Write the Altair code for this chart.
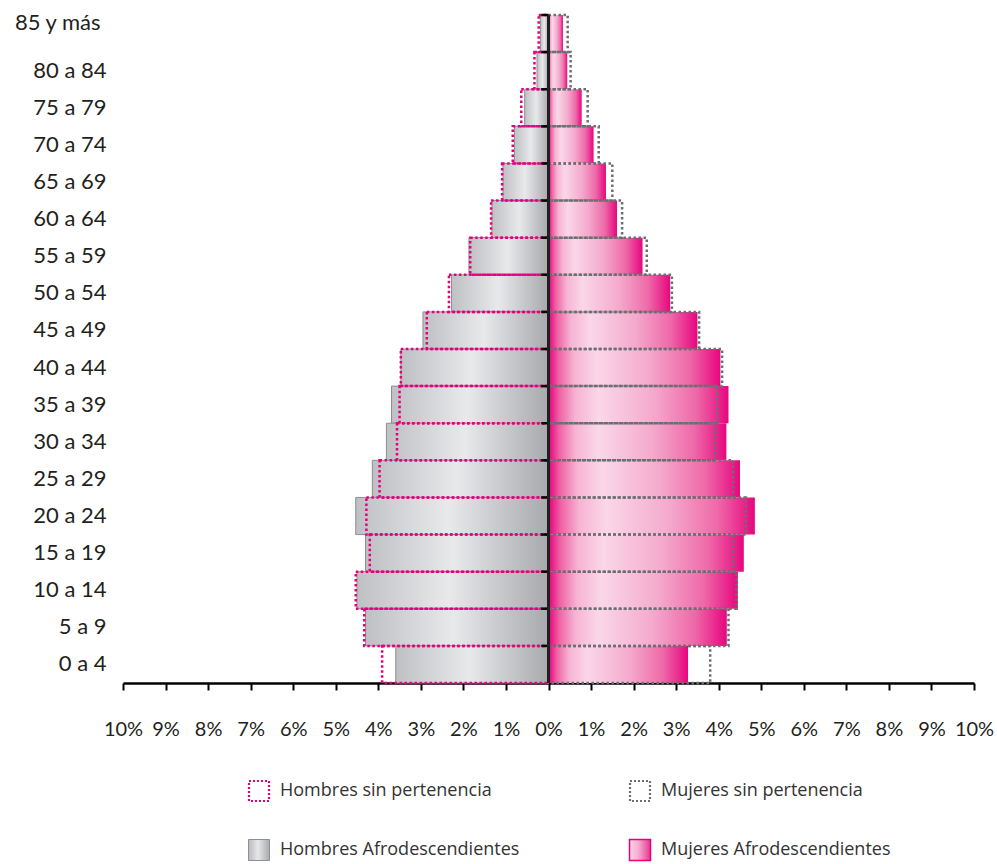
import altair as alt
import pandas as pd

# Age groups, top to bottom
ages = ["85 y más", "80 a 84", "75 a 79", "70 a 74", "65 a 69", "60 a 64",
        "55 a 59", "50 a 54", "45 a 49", "40 a 44", "35 a 39", "30 a 34",
        "25 a 29", "20 a 24", "15 a 19", "10 a 14", "5 a 9", "0 a 4"]

# Share of population (%) per age group
hombres_afro = [0.19, 0.27, 0.56, 0.80, 1.07, 1.33, 1.87, 2.28, 2.95, 3.47,
                3.69, 3.81, 4.14, 4.53, 4.30, 4.50, 4.30, 3.59]
mujeres_afro = [0.34, 0.44, 0.78, 1.06, 1.35, 1.61, 2.21, 2.86, 3.50, 4.04,
                4.23, 4.18, 4.50, 4.85, 4.59, 4.45, 4.19, 3.28]
hombres_sin = [0.23, 0.33, 0.64, 0.84, 1.09, 1.35, 1.84, 2.34, 2.86, 3.47,
               3.50, 3.56, 3.97, 4.28, 4.20, 4.53, 4.33, 3.91]
mujeres_sin = [0.45, 0.52, 0.92, 1.18, 1.50, 1.73, 2.31, 2.90, 3.54, 4.08,
               3.97, 3.92, 4.34, 4.64, 4.34, 4.42, 4.23, 3.80]

x_ticks = list(range(-10, 11))

legend_labels = ["Hombres sin pertenencia", "Mujeres sin pertenencia",
                 "Hombres Afrodescendientes", "Mujeres Afrodescendientes"]
legend_cols = [0, 1, 0, 1]
legend_rows = [0, 0, 1, 1]

df = pd.DataFrame({
    "age": ages,
    "ha": [-v for v in hombres_afro],
    "ma": mujeres_afro,
    "hs": [-v for v in hombres_sin],
    "ms": mujeres_sin,
})
leg = pd.DataFrame({"label": legend_labels, "col": legend_cols, "row": legend_rows})

AXIS_FONT = "Lato"
LEG_FONT = "Open Sans"
MAGENTA = "#e6007e"
DOT_GREY = "#6d6e71"

grey_grad = alt.LinearGradient(
    gradient="linear", x1=0, x2=1, y1=0, y2=0,
    stops=[alt.GradientStop(color="#bfc0c3", offset=0),
           alt.GradientStop(color="#e8e9eb", offset=0.48),
           alt.GradientStop(color="#a8a9ad", offset=1)])
pink_grad = alt.LinearGradient(
    gradient="linear", x1=0, x2=1, y1=0, y2=0,
    stops=[alt.GradientStop(color="#e4007c", offset=0),
           alt.GradientStop(color="#ef62a5", offset=0.06),
           alt.GradientStop(color="#f6b4d3", offset=0.15),
           alt.GradientStop(color="#fad7e8", offset=0.28),
           alt.GradientStop(color="#f4aacd", offset=0.58),
           alt.GradientStop(color="#ee69a8", offset=0.82),
           alt.GradientStop(color="#e7067f", offset=1)])
grey_swatch = alt.LinearGradient(
    gradient="linear", x1=0, x2=1, y1=0, y2=0,
    stops=[alt.GradientStop(color="#b9babd", offset=0),
           alt.GradientStop(color="#e6e7e9", offset=0.45),
           alt.GradientStop(color="#a9aaae", offset=1)])
pink_swatch = alt.LinearGradient(
    gradient="linear", x1=0, x2=1, y1=0, y2=0,
    stops=[alt.GradientStop(color="#f9d3e6", offset=0),
           alt.GradientStop(color="#f6b0d2", offset=0.4),
           alt.GradientStop(color="#e8388f", offset=1)])

xscale = alt.Scale(domain=[-10, 10], nice=False, zero=False)
yscale = alt.Scale(paddingInner=0, paddingOuter=0)

TOP_LABEL = "datum.value === '85 y más'"

X_AX = alt.Axis(values=x_ticks, labelExpr="abs(datum.value) + '%'", title=None,
                grid=False, domain=True, ticks=True, labels=True,
                domainColor="#000000", domainWidth=2.5,
                tickColor="#000000", tickWidth=2, tickSize=7,
                labelFont=AXIS_FONT, labelFontSize=20, labelColor="#231f20",
                labelPadding=29, labelOverlap=False, labelFlush=False)
Y_AX = alt.Axis(title=None, domain=False, ticks=False, labels=True, grid=False,
                labelAlign="right", labelBaseline="middle",
                labelPadding={"condition": {"test": TOP_LABEL, "value": 23},
                              "value": 17},
                labelOffset={"condition": {"test": TOP_LABEL, "value": -11},
                             "value": 0},
                labelFont=AXIS_FONT, labelFontSize=22, labelColor="#231f20")

base = alt.Chart(df)
y_enc = alt.Y("age:N", sort=ages, scale=yscale, axis=Y_AX)

bars_h = base.mark_bar(fill=grey_grad, stroke="#8e8f92", strokeWidth=1).encode(
    x=alt.X("ha:Q", scale=xscale, axis=X_AX), x2=alt.datum(0), y=y_enc)
bars_m = base.mark_bar(fill=pink_grad, strokeWidth=0).encode(
    x=alt.X("ma:Q", scale=xscale), x2=alt.datum(0), y=y_enc)
out_h = base.mark_bar(fill="transparent", stroke=MAGENTA, strokeWidth=2.5,
                      strokeDash=[2.5, 2.5]).encode(
    x=alt.X("hs:Q", scale=xscale), x2=alt.datum(0), y=y_enc)
out_m = base.mark_bar(fill="transparent", stroke=DOT_GREY, strokeWidth=2.5,
                      strokeDash=[2.5, 2.5]).encode(
    x=alt.X("ms:Q", scale=xscale), x2=alt.datum(0), y=y_enc)
band_ticks = base.mark_rule(color="#000000", strokeWidth=2.5).encode(
    x=alt.datum(-0.17), x2=alt.datum(0),
    y=alt.Y("age:N", sort=ages, scale=yscale, bandPosition=0))
center = base.mark_rule(color="#231f20", strokeWidth=2.5).encode(x=alt.datum(0))

pyramid = alt.layer(bars_h, bars_m, out_h, out_m, band_ticks, center)

# Legend drawn below the axis
lx = alt.X("col:Q", scale=alt.Scale(domain=[0, 1], range=[136, 517]), axis=None)
ly = alt.Y("row:Q", scale=alt.Scale(domain=[0, 1], range=[776, 835]), axis=None)
lbase = alt.Chart(leg)
sw_dot_h = lbase.transform_filter("datum.row == 0 && datum.col == 0").mark_point(
    shape="square", size=400, filled=False, stroke=MAGENTA, strokeWidth=2.2,
    strokeDash=[2, 2], opacity=1).encode(x=lx, y=ly)
sw_dot_m = lbase.transform_filter("datum.row == 0 && datum.col == 1").mark_point(
    shape="square", size=400, filled=False, stroke=DOT_GREY, strokeWidth=2.2,
    strokeDash=[2, 2], opacity=1).encode(x=lx, y=ly)
sw_h = lbase.transform_filter("datum.row == 1 && datum.col == 0").mark_point(
    shape="square", size=440, filled=True, fill=grey_swatch, stroke="#8e8f92",
    strokeWidth=1, opacity=1).encode(x=lx, y=ly)
sw_m = lbase.transform_filter("datum.row == 1 && datum.col == 1").mark_point(
    shape="square", size=440, filled=True, fill=pink_swatch, stroke=MAGENTA,
    strokeWidth=1.5, opacity=1).encode(x=lx, y=ly)
leg_text = lbase.mark_text(align="left", baseline="middle", dx=21, font=LEG_FONT,
                           fontSize=18, color="#333333").encode(
    x=lx, y=ly, text="label:N")
legend = alt.layer(sw_dot_h, sw_dot_m, sw_h, sw_m, leg_text)

chart = alt.layer(pyramid, legend).resolve_scale(
    x="independent", y="independent"
).properties(
    width=851, height=668,
    background="#ffffff",
    autosize=alt.AutoSizeParams(type="none"),
    padding={"left": 123, "top": 15, "right": 23, "bottom": 181},
).configure_view(
    strokeWidth=0, stroke="transparent"
).configure_axis(
    domain=False, ticks=False, grid=False, labels=False
)

chart.save("out.html", embed_options={"renderer": "svg", "actions": False})
